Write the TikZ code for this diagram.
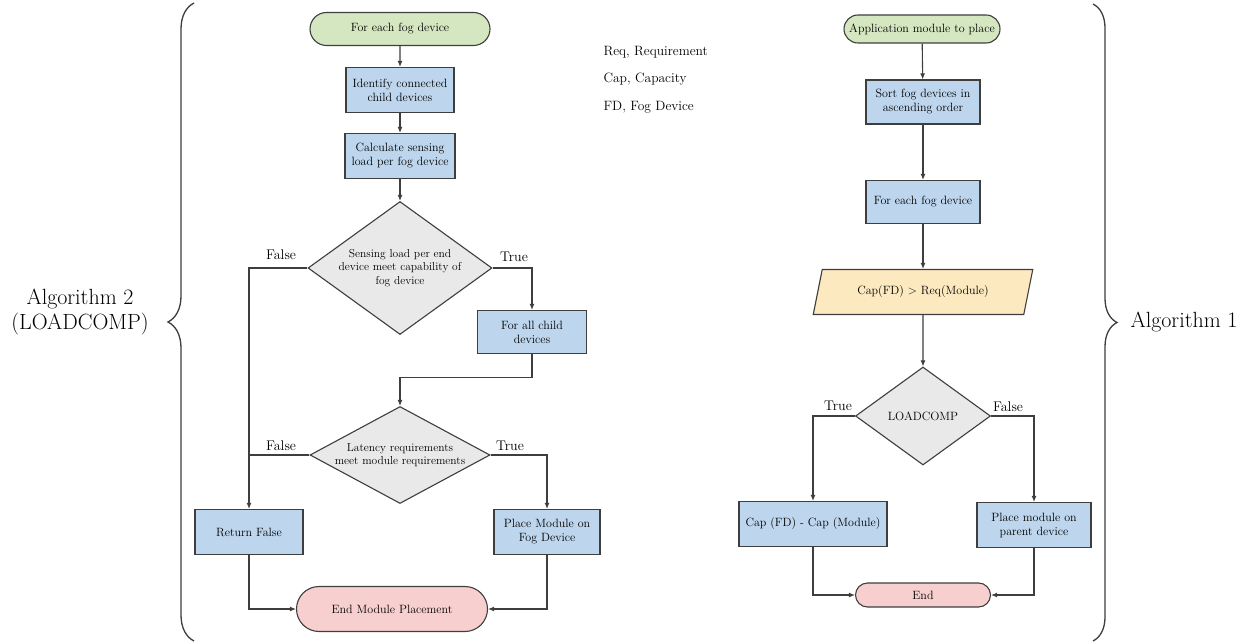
\documentclass[tikz,border=0pt]{standalone}
\usetikzlibrary{shapes.geometric,shapes.misc,arrows.meta,decorations.pathreplacing}

\definecolor{linegray}{RGB}{62,62,62}
\definecolor{startgreen}{RGB}{213,231,193}
\definecolor{procblue}{RGB}{189,214,237}
\definecolor{decgray}{RGB}{233,233,233}
\definecolor{endpink}{RGB}{248,207,207}
\definecolor{ioyellow}{RGB}{253,233,192}

\begin{document}
\begin{tikzpicture}[x=1pt, y=-1pt,
    every node/.style={text=black},
    boxtext/.style={font=\fontsize{12}{14}\selectfont, align=center},
    terminal/.style={boxtext, shape=rounded rectangle, draw=linegray, line width=1.1pt, inner sep=0pt},
    procbox/.style={boxtext, draw=linegray, line width=1.1pt, fill=procblue, inner sep=2pt},
    decision/.style={boxtext, shape=diamond, draw=linegray, line width=1.1pt, fill=decgray, inner sep=0pt, aspect=1.4},
    iobox/.style={boxtext, shape=trapezium, trapezium left angle=64, trapezium right angle=116,
        trapezium stretches=true, draw=linegray, line width=1.1pt, fill=ioyellow, inner sep=0pt},
    flow/.style={draw=linegray, line width=1.1pt, -{Latex[length=6pt,width=5pt]}},
    joinline/.style={draw=linegray, line width=1.1pt},
    branch/.style={font=\fontsize{14}{16}\selectfont},
    legend/.style={font=\fontsize{13.5}{16}\selectfont, anchor=west},
    algolabel/.style={font=\fontsize{22}{25}\selectfont, align=center},
    bracket/.style={draw=linegray, line width=1.3pt, decorate}]

    \useasboundingbox (0,0) rectangle (1247,644);

    % left chart: LOADCOMP
    \node[terminal, fill=startgreen, minimum width=180pt, minimum height=33pt] (lstart) at (400,29) {For each fog device};
    \node[procbox, minimum width=108pt, minimum height=45pt] (ident) at (400,90) {Identify connected\\child devices};
    \node[procbox, minimum width=110pt, minimum height=45pt] (calc) at (400,156) {Calculate sensing\\load per fog device};
    \node[decision, minimum width=184pt, minimum height=133pt, font=\fontsize{11.5}{13.5}\selectfont] (sense) at (400,268)
        {Sensing load per end\\device meet capability of\\fog device};
    \node[procbox, minimum width=109pt, minimum height=43pt] (allchild) at (532,332) {For all child\\devices};
    \node[decision, minimum width=180pt, minimum height=97pt, aspect=1.86, font=\fontsize{11.5}{13.5}\selectfont] (latency) at (400,455)
        {Latency requirements\\meet module requirements};
    \node[procbox, minimum width=108pt, minimum height=45pt] (retfalse) at (249,532) {Return False};
    \node[procbox, minimum width=106pt, minimum height=45pt] (placefog) at (547,532) {Place Module on\\Fog Device};
    \node[terminal, fill=endpink, minimum width=191pt, minimum height=45pt] (lend) at (392,609) {End Module Placement};

    \draw[flow] (lstart) -- (ident);
    \draw[flow] (ident) -- (calc);
    \draw[flow] (calc) -- (sense);
    \draw[flow] (sense.west) -| (retfalse.north);
    \draw[flow] (sense.east) -| (allchild.north);
    \draw[flow] (allchild.south) -- ++(0,23) -| (latency.north);
    \draw[joinline] (latency.west) -- (latency.west -| retfalse.north);
    \draw[flow] (latency.east) -| (placefog.north);
    \draw[flow] (retfalse.south) |- (lend.west);
    \draw[flow] (placefog.south) |- (lend.east);

    \node[branch] (sfalse) at (281,255) {False};
    \node[branch] (strue) at (514,257) {True};
    \node[branch] (lfalse) at (281,446) {False};
    \node[branch] (ltrue) at (510,446) {True};

    % abbreviations
    \node[legend] (req) at (600,52) {Req, Requirement};
    \node[legend] (cap) at (600,79) {Cap, Capacity};
    \node[legend] (fd) at (600,107) {FD, Fog Device};

    % right chart: placement
    \node[terminal, fill=startgreen, minimum width=156pt, minimum height=28pt] (rstart) at (922,29) {Application module to place};
    \node[procbox, minimum width=114pt, minimum height=44pt] (sortfd) at (923,102) {Sort fog devices in\\ascending order};
    \node[procbox, minimum width=114pt, minimum height=43pt] (eachfd) at (923,202) {For each fog device};
    \node[iobox, minimum width=220pt, minimum height=45pt] (capreq) at (923,292) {Cap(FD) > Req(Module)};
    \node[decision, minimum width=135pt, minimum height=98pt] (loadcomp) at (923,416) {LOADCOMP};
    \node[procbox, minimum width=148pt, minimum height=45pt] (capsub) at (813,524) {Cap (FD) - Cap (Module)};
    \node[procbox, minimum width=114pt, minimum height=45pt] (placepar) at (1034,525) {Place module on\\parent device};
    \node[terminal, fill=endpink, minimum width=135pt, minimum height=24pt] (rend) at (923,595) {End};

    \draw[flow] (rstart) -- (sortfd);
    \draw[flow] (sortfd) -- (eachfd);
    \draw[flow] (eachfd) -- (capreq);
    \draw[flow] (capreq) -- (loadcomp);
    \draw[flow] (loadcomp.west) -| (capsub.north);
    \draw[flow] (loadcomp.east) -| (placepar.north);
    \draw[flow] (capsub.south) |- (rend.west);
    \draw[flow] (placepar.south) |- (rend.east);

    \node[branch] (rtrue) at (838,406) {True};
    \node[branch] (rfalse) at (1008,407) {False};

    % braces and algorithm names
    \coordinate (lbot) at (194,641);
    \coordinate (ltop) at (194,3);
    \coordinate (rtop) at (1093,4);
    \coordinate (rbot) at (1093,641);
    \draw[bracket, decoration={brace, amplitude=26pt}] (lbot) -- (ltop);
    \draw[bracket, decoration={brace, amplitude=24pt}] (rtop) -- (rbot);

    \node[algolabel] (algtwo) at (80,312) {Algorithm 2\\(LOADCOMP)};
    \node[algolabel, anchor=west] (algone) at (1127,322) {Algorithm 1};

\end{tikzpicture}
\end{document}
